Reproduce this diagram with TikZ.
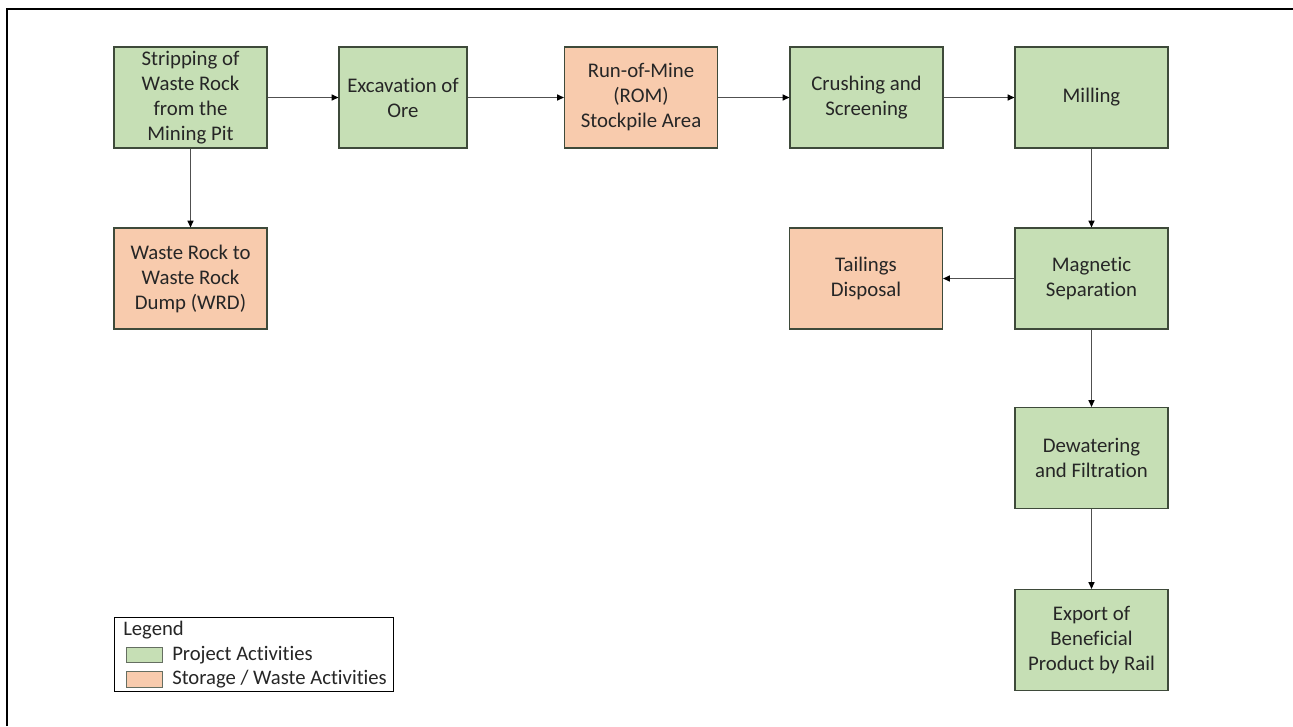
\documentclass[tikz,border=0pt]{standalone}
\usepackage{fontspec}
\setmainfont{Carlito}[Ligatures=NoCommon]
\usetikzlibrary{arrows.meta}
\definecolor{pgreen}{HTML}{C6DFB5}
\definecolor{porange}{HTML}{F8CBAD}
\definecolor{bord}{HTML}{3E4A3A}
\definecolor{conn}{HTML}{505050}
\definecolor{txt}{HTML}{262626}
\tikzset{
  box/.style={draw=bord, line width=0.9pt, align=center, inner sep=0pt,
    minimum width=114.75pt, minimum height=75.75pt, text=txt,
    font=\fontsize{15.6}{18.75}\selectfont},
  proj/.style={box, fill=pgreen},
  stor/.style={box, fill=porange},
  flow/.style={draw=conn, line width=0.8pt, -{Triangle[length=5pt,width=4.5pt,color=black]}},
  legtxt/.style={anchor=west, inner sep=0pt, text=txt, font=\fontsize{15.5}{18}\selectfont},
  swatch/.style={draw=bord!80, line width=0.6pt, minimum width=27pt, minimum height=11.5pt, inner sep=0pt}
}
\begin{document}
\begin{tikzpicture}[x=0.75pt,y=-0.75pt]
\useasboundingbox (0,0) rectangle (1293,726);
\fill[white] (0,0) rectangle (1293,726);
% outer frame (open at right and bottom)
\draw[line width=1.5pt] (7,726) -- (7,9) -- (1293,9);

\node[proj] (strip) at (190.5,97.5) {Stripping of\\Waste Rock\\from the\\Mining Pit};
\node[proj, minimum width=96pt] (excav) at (403,97.5) {Excavation of\\Ore};
\node[stor] (rom) at (641,97.5) {Run-of-Mine\\(ROM)\\Stockpile Area};
\node[proj] (crush) at (866.5,97.5) {Crushing and\\Screening};
\node[proj] (mill) at (1091.5,97.5) {Milling};
\node[stor] (wrd) at (190.5,278.5) {Waste Rock to\\Waste Rock\\Dump (WRD)};
\node[stor] (tail) at (866,278.5) {Tailings\\Disposal};
\node[proj] (mag) at (1091.5,278.5) {Magnetic\\Separation};
\node[proj] (dew) at (1091.5,458) {Dewatering\\and Filtration};
\node[proj] (exp) at (1091.5,640) {Export of\\Beneficial\\Product by Rail};

\draw[flow] (strip) -- (excav);
\draw[flow] (excav) -- (rom);
\draw[flow] (rom) -- (crush);
\draw[flow] (crush) -- (mill);
\draw[flow] (strip) -- (wrd);
\draw[flow] (mill) -- (mag);
\draw[flow] (mag) -- (tail);
\draw[flow] (mag) -- (dew);
\draw[flow] (dew) -- (exp);

% legend
\node[draw=black, line width=0.7pt, minimum width=209.25pt, minimum height=55.5pt, inner sep=0pt] (legend) at (253.5,654) {};
\node[legtxt] (legtitle) at (123,630) {Legend};
\node[swatch, fill=pgreen] (sw1) at (144,655) {};
\node[swatch, fill=porange] (sw2) at (144,679.5) {};
\node[legtxt] (lt1) at (172,655) {Project Activities};
\node[legtxt] (lt2) at (172,679.5) {Storage / Waste Activities};
\end{tikzpicture}
\end{document}
